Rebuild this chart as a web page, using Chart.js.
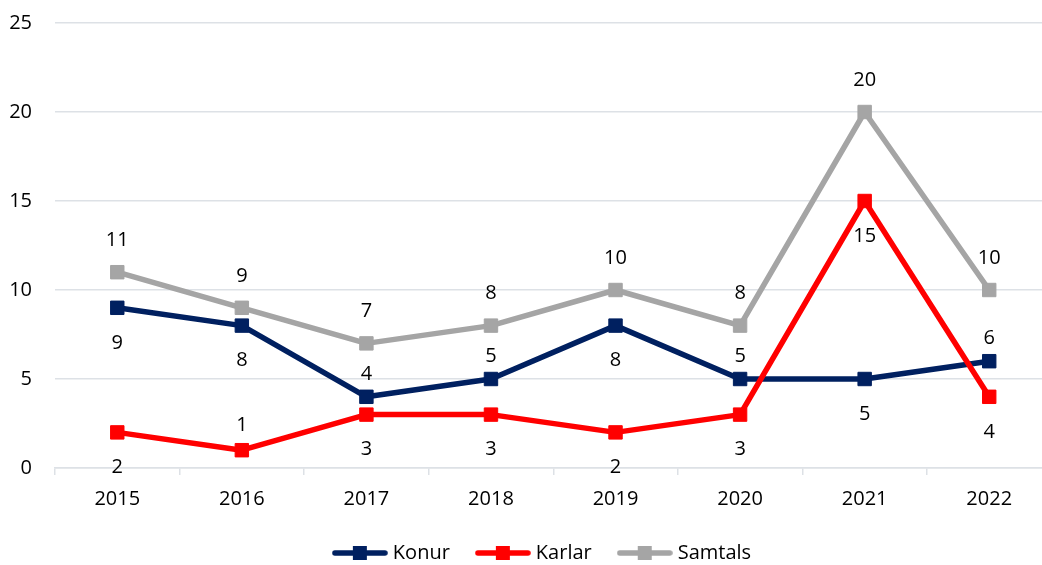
<!DOCTYPE html>
<html>
<head>
<meta charset="utf-8">
<script src="https://cdn.jsdelivr.net/npm/chart.js@4.4.1/dist/chart.umd.min.js"></script>
<style>
  html, body { margin: 0; padding: 0; background: #fff; overflow: hidden; }
  #wrap { width: 1042px; height: 565px; overflow: hidden; }
  #chart { display: block; margin-top: -12px; }
</style>
</head>
<body>
<div id="wrap"><canvas id="chart" width="1062" height="585"></canvas></div>
<script>
const years = ["2015", "2016", "2017", "2018", "2019", "2020", "2021", "2022"];
const konur = [9, 8, 4, 5, 8, 5, 5, 6];
const karlar = [2, 1, 3, 3, 2, 3, 15, 4];
const samtals = [11, 9, 7, 8, 10, 8, 20, 10];

const FONT = "'Open Sans', 'Noto Sans', sans-serif";
const textColor = "#000000";
const gridColor = "#DDE1E6";

// draws the value next to each marker, above or below as in the original
const valueLabels = {
  id: "valueLabels",
  afterDatasetsDraw(chart) {
    const { ctx } = chart;
    ctx.save();
    ctx.font = "20px " + FONT;
    ctx.fillStyle = textColor;
    ctx.textAlign = "center";
    ctx.textBaseline = "middle";
    chart.data.datasets.forEach((ds, i) => {
      const meta = chart.getDatasetMeta(i);
      meta.data.forEach((pt, j) => {
        const dy = ds.labelPos[j] === "a" ? ds.labelAbove : 35;
        ctx.fillText(String(ds.data[j]), pt.x, pt.y + dy);
      });
    });
    ctx.restore();
  },
};

// the legend in the original sits a little right of the canvas middle
const legendShift = {
  id: "legendShift",
  afterLayout(chart) {
    if (chart.legend) {
      chart.legend.left += 26;
    }
  },
};

function legendMarker(color) {
  const c = document.createElement("canvas");
  c.width = 56;
  c.height = 14;
  const g = c.getContext("2d");
  g.strokeStyle = color;
  g.lineWidth = 5.5;
  g.lineCap = "round";
  g.beginPath();
  g.moveTo(3, 7);
  g.lineTo(53, 7);
  g.stroke();
  g.fillStyle = color;
  g.fillRect(21, 0, 14, 14);
  return c;
}

function makeSeries(label, data, color, labelPos, labelAbove, order) {
  return {
    label: label,
    data: data,
    borderColor: color,
    backgroundColor: color,
    borderWidth: 5.5,
    tension: 0,
    borderCapStyle: "round",
    borderJoinStyle: "round",
    pointStyle: "rect",
    pointRadius: 9.5,
    pointBorderWidth: 1,
    pointBackgroundColor: color,
    pointBorderColor: color,
    labelPos: labelPos,
    labelAbove: labelAbove,
    order: order,
  };
}

const datasets = [
  makeSeries("Konur", konur, "#002060", ["b", "b", "a", "a", "b", "a", "b", "a"], -23, 2),
  makeSeries("Karlar", karlar, "#FF0000", ["b", "a", "b", "b", "b", "b", "b", "b"], -25, 1),
  makeSeries("Samtals", samtals, "#A5A5A5", ["a", "a", "a", "a", "a", "a", "a", "a"], -32, 0),
];

const markers = datasets.map((ds) => legendMarker(ds.borderColor));

new Chart(document.getElementById("chart").getContext("2d"), {
  type: "line",
  data: {
    labels: years,
    datasets: datasets,
  },
  options: {
    responsive: false,
    animation: false,
    layout: {
      padding: { top: 0, left: 0, right: 0, bottom: 0 },
    },
    scales: {
      x: {
        offset: true,
        afterFit: (scale) => {
          scale.height -= 10;
        },
        grid: {
          display: true,
          offset: true,
          drawOnChartArea: false,
          drawTicks: true,
          tickLength: 7,
          color: gridColor,
          lineWidth: 1.5,
        },
        border: { display: true, color: gridColor, width: 1.5 },
        ticks: {
          color: textColor,
          padding: 12,
          font: { family: FONT, size: 20 },
        },
      },
      y: {
        min: 0,
        max: 25,
        afterFit: (scale) => {
          scale.width = 55;
        },
        grid: { color: gridColor, lineWidth: 1.5, drawTicks: false },
        border: { display: false },
        ticks: {
          stepSize: 5,
          padding: 23,
          color: textColor,
          font: { family: FONT, size: 20 },
        },
      },
    },
    plugins: {
      tooltip: { enabled: false },
      legend: {
        position: "bottom",
        labels: {
          usePointStyle: true,
          pointStyleWidth: 46,
          padding: 30,
          color: textColor,
          font: { family: FONT, size: 20 },
          generateLabels: (chart) =>
            chart.data.datasets.map((ds, i) => ({
              text: ds.label,
              pointStyle: markers[i],
              datasetIndex: i,
              hidden: false,
              fontColor: textColor,
              fillStyle: ds.borderColor,
              strokeStyle: ds.borderColor,
              lineWidth: 0,
            })),
        },
      },
    },
  },
  plugins: [valueLabels, legendShift],
});
</script>
</body>
</html>
